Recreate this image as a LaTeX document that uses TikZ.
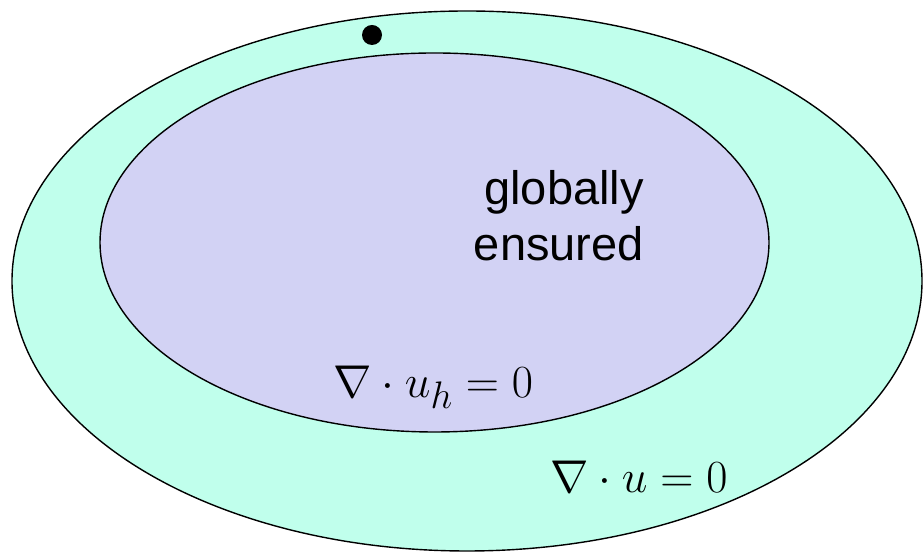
\documentclass[tikz,border=0pt]{standalone}
\usepackage{fontspec}
\setmainfont{Liberation Sans}
\usetikzlibrary{shapes.geometric}
\definecolor{outerfill}{RGB}{192,255,236}
\definecolor{innerfill}{RGB}{210,210,244}
\tikzset{
  region/.style={ellipse, draw=black, line width=1.4pt, inner sep=0pt},
  lbl/.style={font=\fontsize{47}{56}\selectfont, inner sep=0pt},
  mathlbl/.style={font=\Huge, scale=1.85, inner sep=0pt},
}
\begin{document}
\begin{tikzpicture}[x=1pt,y=1pt]
\useasboundingbox (0,0) rectangle (924,553);
\node[region, fill=outerfill, minimum width=910pt, minimum height=540pt] (outer) at (467,272) {};
\node[region, fill=innerfill, minimum width=669pt, minimum height=379pt] (inner) at (434.5,310.5) {};
\fill (372,518) circle (10pt) coordinate (dot);
\node[lbl, align=right, anchor=east] (glob) at (644,337) {globally\\ensured};
\node[mathlbl, anchor=base west] (divuh) at (333,155) {$\nabla\cdot u_h = 0$};
\node[mathlbl, anchor=base west] (divu) at (550,60) {$\nabla\cdot u = 0$};
\end{tikzpicture}
\end{document}
